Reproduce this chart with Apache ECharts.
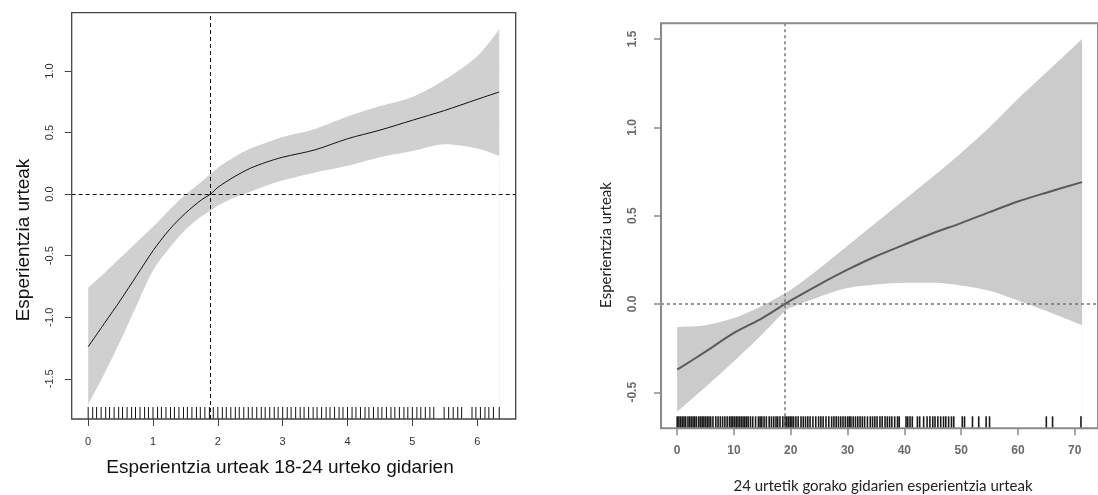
<!DOCTYPE html>
<html><head><meta charset="utf-8">
<script src="https://cdn.jsdelivr.net/npm/echarts@6/dist/echarts.min.js"></script>
<style>html,body{margin:0;padding:0;background:#fff}#c{width:1098px;height:495px}</style>
</head><body><div id="c"></div>
<script>
// ---------- Left panel (18-24) ----------
const leftX     = [0, 0.25, 0.5, 0.75, 1, 1.25, 1.5, 1.75, 1.888, 2, 2.25, 2.5, 2.75, 3, 3.5, 4, 4.5, 5, 5.5, 6, 6.34];
const leftFit   = [-1.24, -1.05, -0.86, -0.66, -0.46, -0.29, -0.155, -0.045, 0, 0.055, 0.14, 0.21, 0.26, 0.30, 0.36, 0.45, 0.52, 0.60, 0.68, 0.77, 0.83];
const leftUpper = [-0.76, -0.64, -0.515, -0.39, -0.265, -0.13, -0.005, 0.10, 0.165, 0.215, 0.30, 0.37, 0.42, 0.465, 0.53, 0.63, 0.715, 0.79, 0.93, 1.12, 1.34];
const leftLower = [-1.71, -1.46, -1.19, -0.90, -0.62, -0.44, -0.29, -0.18, -0.135, -0.095, -0.03, 0.02, 0.07, 0.11, 0.175, 0.23, 0.30, 0.35, 0.405, 0.37, 0.31];
const leftRug = [0, 0.07, 0.13, 0.2, 0.27, 0.33, 0.4, 0.47, 0.53, 0.6, 0.67, 0.73, 0.8, 0.87, 0.93,
  1, 1.07, 1.13, 1.2, 1.27, 1.33, 1.4, 1.47, 1.53, 1.6, 1.67, 1.73, 1.8, 1.87, 1.93,
  2, 2.07, 2.13, 2.2, 2.27, 2.33, 2.4, 2.47, 2.53, 2.6, 2.67, 2.73, 2.8, 2.87, 2.93,
  3, 3.07, 3.13, 3.2, 3.27, 3.33, 3.4, 3.47, 3.53, 3.6, 3.67, 3.73, 3.8, 3.87, 3.93,
  4, 4.07, 4.13, 4.2, 4.27, 4.33, 4.4, 4.47, 4.53, 4.6, 4.67, 4.73, 4.8, 4.87, 4.93,
  5, 5.07, 5.13, 5.2, 5.27, 5.33, 5.49, 5.56, 5.63, 5.7, 5.76,
  5.92, 5.98, 6.05, 6.12, 6.18, 6.25, 6.34];
const leftXTicks = [0, 1, 2, 3, 4, 5, 6];
const leftYTicks = [-1.5, -1, -0.5, 0, 0.5, 1];
const leftRefX = 1.888;
const leftRefY = 0;
const leftXTitle = 'Esperientzia urteak 18-24 urteko gidarien';
const leftYTitle = 'Esperientzia urteak';

// ---------- Right panel (>24) ----------
const rightX     = [0, 5, 10, 15, 19, 20, 25, 30, 35, 40, 45, 50, 55, 60, 65, 71.3];
const rightFit   = [-0.372, -0.27, -0.164, -0.08, 0, 0.02, 0.11, 0.194, 0.27, 0.336, 0.40, 0.458, 0.52, 0.58, 0.63, 0.69];
const rightUpper = [-0.13, -0.12, -0.08, -0.01, 0.06, 0.08, 0.20, 0.33, 0.46, 0.59, 0.72, 0.855, 1.0, 1.16, 1.31, 1.50];
const rightLower = [-0.61, -0.47, -0.325, -0.17, -0.04, -0.02, 0.04, 0.09, 0.11, 0.12, 0.12, 0.105, 0.075, 0.02, -0.04, -0.12];
const rightRug = [0, 0.3, 0.6, 0.9, 1.2, 1.5, 1.9, 2.2, 2.5, 2.8, 3.1, 3.4, 3.8, 4.1, 4.4, 4.7, 5.0, 5.3, 5.6, 5.9,
  6.3, 6.8, 7.2, 7.6, 8.0, 8.4, 8.8, 9.2, 9.5, 9.8, 10.1, 10.4, 10.7, 11.0, 11.3, 11.6, 11.9, 12.2, 12.5, 12.9,
  13.3, 13.8, 14.3, 14.6, 14.9, 15.3, 15.7, 16.2, 16.6, 17.0, 17.4, 17.7, 18.1, 18.6, 19.0, 19.3, 19.6, 19.9,
  20.2, 20.5, 20.9, 21.3, 21.8, 22.2, 22.6, 23.0, 23.4, 23.9, 24.4, 24.9, 25.3, 25.7, 26.2, 26.7, 27.2, 27.6,
  28.0, 28.4, 28.8, 29.2, 29.6, 30.0, 30.3, 30.6, 31.0, 31.4, 31.8, 32.2, 32.6, 33.0, 33.5, 34.0, 34.4, 34.8,
  35.2, 35.7, 36.1, 36.6, 37.0, 37.4, 37.8, 38.3, 38.8, 39.1, 40.3, 40.6, 41.0, 41.4, 42.3, 42.7, 43.4, 44.0,
  44.5, 45.0, 45.4, 45.9, 46.4, 46.9, 47.3, 47.8, 48.3, 48.7, 50.2, 50.6, 52.0, 53.1, 54.4, 55.0, 65.0, 66.1, 71.1];
const rightXTicks = [0, 10, 20, 30, 40, 50, 60, 70];
const rightYTicks = [-0.5, 0, 0.5, 1, 1.5];
const rightRefX = 19;
const rightRefY = 0;
const rightXTitle = '24 urtetik gorako gidarien esperientzia urteak';
const rightYTitle = 'Esperientzia urteak';

// ---------- build ----------
const zip = (xs, ys) => xs.map((x, i) => [x, ys[i]]);

const L = { xMin: -0.254, xMax: 6.594, yMin: -1.827, yMax: 1.474 };
const R = { xMin: -2.85, xMax: 74.1, yMin: -0.704, yMax: 1.589 };

function xAxisCfg(gi, o, ticks, st) {
  return {
    type: 'value', gridIndex: gi, min: o.xMin, max: o.xMax,
    axisLine: { show: false, onZero: false }, splitLine: { show: false },
    axisTick: { show: true, length: 7, customValues: ticks, lineStyle: { color: st.tickColor, width: st.tickWidth } },
    axisLabel: { customValues: ticks, margin: st.xMargin, fontSize: st.fontSize, color: st.labelColor,
      fontFamily: 'Liberation Sans, Arial', fontWeight: st.fontWeight }
  };
}
function yAxisCfg(gi, o, ticks, st) {
  return {
    type: 'value', gridIndex: gi, min: o.yMin, max: o.yMax,
    axisLine: { show: false, onZero: false }, splitLine: { show: false },
    axisTick: { show: true, length: 7, customValues: ticks, lineStyle: { color: st.tickColor, width: st.tickWidth } },
    axisLabel: { customValues: ticks, margin: st.yMargin, rotate: 90, fontSize: st.fontSize, color: st.labelColor,
      fontFamily: 'Liberation Sans, Arial', fontWeight: st.fontWeight, formatter: v => Number(v).toFixed(1) }
  };
}
function panelSeries(gi, xs, fit, up, lo, rug, refX, refY, o, st) {
  return [
    // grey fill from the upper bound down to the axis floor
    { type: 'line', xAxisIndex: gi, yAxisIndex: gi, data: zip(xs, up), smooth: 0.3,
      symbol: 'none', lineStyle: { opacity: 0 }, areaStyle: { color: st.bandColor, opacity: 1, origin: 'start' }, silent: true, z: 1 },
    // white fill from the lower bound down, leaving the confidence band
    { type: 'line', xAxisIndex: gi, yAxisIndex: gi, data: zip(xs, lo), smooth: 0.3,
      symbol: 'none', lineStyle: { opacity: 0 }, areaStyle: { color: '#ffffff', opacity: 1, origin: 'start' }, silent: true, z: 2 },
    { type: 'line', xAxisIndex: gi, yAxisIndex: gi, data: zip(xs, fit), smooth: 0.3, symbol: 'none',
      lineStyle: { color: st.lineColor, width: st.lineWidth }, silent: true, z: 3,
      markLine: { silent: true, symbol: ['none', 'none'], label: { show: false },
        lineStyle: { color: st.refColor, type: st.refDash, width: st.refWidth },
        data: [{ xAxis: refX }, { yAxis: refY }] } },
    { type: 'scatter', xAxisIndex: gi, yAxisIndex: gi, data: rug.map(v => [v, o.yMin]), symbol: 'rect',
      symbolSize: [st.rugWidth, 12], symbolOffset: [0, -6], clip: false, silent: true, z: 4,
      itemStyle: { color: st.rugColor, opacity: st.rugOpacity } }
  ];
}

const stL = { tickColor: '#444', tickWidth: 1, labelColor: '#333', fontSize: 11, fontWeight: 'normal',
  xMargin: 17, yMargin: 16, bandColor: '#d0d0d0', lineColor: '#111', lineWidth: 1,
  refColor: '#111', refDash: [4, 3], refWidth: 1, rugColor: '#111', rugOpacity: 1, rugWidth: 1 };
const stR = { tickColor: '#8a8a8a', tickWidth: 1.5, labelColor: '#6a6a6a', fontSize: 12, fontWeight: 'bold',
  xMargin: 16, yMargin: 22, bandColor: '#cbcbcb', lineColor: '#5a5a5a', lineWidth: 2,
  refColor: '#777', refDash: [3, 3], refWidth: 1.5, rugColor: '#000', rugOpacity: 0.9, rugWidth: 1.6 };

const chart = echarts.init(document.getElementById('c'), null, { renderer: 'canvas' });
chart.setOption({
  animation: false,
  backgroundColor: '#fff',
  grid: [
    { left: 71.7, top: 12.7, width: 444, height: 406.3, show: true, z: 10, borderColor: '#444', borderWidth: 1.3, backgroundColor: 'transparent' },
    { left: 661, top: 23.3, width: 450, height: 405, show: true, z: 10, borderColor: '#8a8a8a', borderWidth: 2, backgroundColor: 'transparent' }
  ],
  xAxis: [xAxisCfg(0, L, leftXTicks, stL), xAxisCfg(1, R, rightXTicks, stR)],
  yAxis: [yAxisCfg(0, L, leftYTicks, stL), yAxisCfg(1, R, rightYTicks, stR)],
  series: [].concat(
    panelSeries(0, leftX, leftFit, leftUpper, leftLower, leftRug, leftRefX, leftRefY, L, stL),
    panelSeries(1, rightX, rightFit, rightUpper, rightLower, rightRug, rightRefX, rightRefY, R, stR)
  ),
  graphic: [
    { type: 'rect', shape: { x: 60, y: 445, width: 470, height: 10 }, style: { fill: '#fff' }, z: 100, silent: true },
    { type: 'text', x: 280, y: 468, z: 101, style: { text: leftXTitle, fontSize: 19, fontFamily: 'Liberation Sans, Arial', fill: '#111', align: 'center', verticalAlign: 'middle' } },
    { type: 'text', x: 24, y: 240, rotation: Math.PI / 2, z: 101, style: { text: leftYTitle, fontSize: 19, fontFamily: 'Liberation Sans, Arial', fill: '#111', align: 'center', verticalAlign: 'middle' } },
    { type: 'text', x: 883, y: 486, z: 101, style: { text: rightXTitle, fontSize: 15, fontFamily: 'Lato, Open Sans', fill: '#222', align: 'center', verticalAlign: 'middle' } },
    { type: 'text', x: 606, y: 245, rotation: Math.PI / 2, z: 101, style: { text: rightYTitle, fontSize: 15, fontFamily: 'Lato, Open Sans', fill: '#222', align: 'center', verticalAlign: 'middle' } }
  ]
});
</script>
</body></html>
